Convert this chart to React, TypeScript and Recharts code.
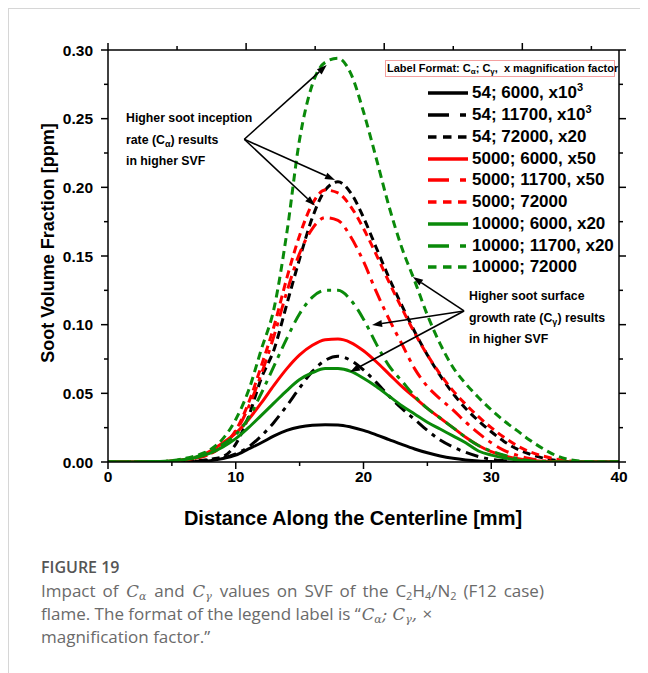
import React from 'react';
import { LineChart, Line, XAxis, YAxis, ReferenceLine } from 'recharts';

// ---------- data ----------
const X_MM = [0, 2, 4, 5, 6, 7, 8, 9, 10, 11, 12, 13, 14, 15, 16, 17, 18, 19, 20, 21, 22, 23, 24, 25, 26, 27, 28, 29, 30, 31, 32, 33, 34, 35, 36, 37, 38, 40];

const SVF_54_6000 = [0, 0, 0, 0, 0.0001, 0.0004, 0.001, 0.0025, 0.005, 0.0095, 0.014, 0.019, 0.023, 0.0255, 0.0268, 0.0272, 0.027, 0.0255, 0.023, 0.0198, 0.0163, 0.0128, 0.0095, 0.0067, 0.0044, 0.0027, 0.0015, 0.0007, 0.0003, 0.0001, 0, 0, 0, 0, 0, 0, 0, 0];
const SVF_54_11700 = [0, 0, 0, 0, 0.0002, 0.0006, 0.0015, 0.003, 0.006, 0.011, 0.019, 0.029, 0.041, 0.054, 0.066, 0.074, 0.077, 0.074, 0.067, 0.058, 0.048, 0.039, 0.031, 0.023, 0.016, 0.011, 0.007, 0.004, 0.002, 0.001, 0.0004, 0, 0, 0, 0, 0, 0, 0];
const SVF_54_72000 = [0, 0, 0, 0.0001, 0.0003, 0.0008, 0.002, 0.004, 0.013, 0.033, 0.061, 0.082, 0.115, 0.148, 0.178, 0.198, 0.204, 0.196, 0.178, 0.156, 0.134, 0.114, 0.095, 0.078, 0.063, 0.05, 0.039, 0.03, 0.022, 0.015, 0.0095, 0.0058, 0.003, 0.0012, 0.0003, 0, 0, 0];
const SVF_5000_6000 = [0, 0, 0.0003, 0.0008, 0.0018, 0.0035, 0.008, 0.014, 0.021, 0.031, 0.043, 0.056, 0.068, 0.078, 0.085, 0.089, 0.0895, 0.087, 0.081, 0.073, 0.064, 0.055, 0.047, 0.039, 0.032, 0.025, 0.018, 0.012, 0.0075, 0.0045, 0.0025, 0.0012, 0.0005, 0.0002, 0, 0, 0, 0];
const SVF_5000_11700 = [0, 0, 0.0002, 0.0006, 0.0015, 0.003, 0.006, 0.012, 0.022, 0.04, 0.064, 0.092, 0.124, 0.152, 0.17, 0.178, 0.176, 0.164, 0.146, 0.124, 0.104, 0.086, 0.068, 0.055, 0.046, 0.038, 0.029, 0.021, 0.014, 0.0085, 0.005, 0.0025, 0.001, 0.0003, 0, 0, 0, 0];
const SVF_5000_72000 = [0, 0, 0.0002, 0.0006, 0.0015, 0.003, 0.006, 0.012, 0.023, 0.043, 0.07, 0.099, 0.134, 0.165, 0.188, 0.198, 0.196, 0.186, 0.17, 0.151, 0.131, 0.112, 0.094, 0.078, 0.064, 0.052, 0.042, 0.033, 0.025, 0.018, 0.012, 0.0075, 0.0045, 0.0022, 0.0008, 0.0002, 0, 0];
const SVF_10000_6000 = [0, 0, 0.0003, 0.0008, 0.0018, 0.0035, 0.0065, 0.011, 0.017, 0.025, 0.034, 0.043, 0.052, 0.06, 0.065, 0.068, 0.068, 0.066, 0.061, 0.055, 0.048, 0.041, 0.035, 0.029, 0.024, 0.019, 0.014, 0.008, 0.005, 0.003, 0.0015, 0.0006, 0.0002, 0, 0, 0, 0, 0];
const SVF_10000_11700 = [0, 0, 0.0003, 0.0008, 0.002, 0.004, 0.008, 0.013, 0.02, 0.032, 0.05, 0.07, 0.09, 0.108, 0.12, 0.125, 0.125, 0.118, 0.104, 0.086, 0.07, 0.059, 0.048, 0.039, 0.032, 0.025, 0.018, 0.012, 0.008, 0.005, 0.0025, 0.001, 0.0003, 0, 0, 0, 0, 0];
const SVF_10000_72000 = [0, 0, 0.0004, 0.001, 0.0025, 0.005, 0.009, 0.017, 0.031, 0.052, 0.082, 0.112, 0.167, 0.235, 0.275, 0.291, 0.294, 0.283, 0.255, 0.221, 0.186, 0.156, 0.132, 0.107, 0.086, 0.069, 0.057, 0.047, 0.038, 0.03, 0.023, 0.016, 0.01, 0.005, 0.002, 0.0006, 0.0001, 0];

const X_TICKS = [0, 5, 10, 15, 20, 25, 30, 35, 40];
const Y_TICKS = [0, 0.025, 0.05, 0.075, 0.1, 0.125, 0.15, 0.175, 0.2, 0.225, 0.25, 0.275, 0.3];

const LEGEND_LABELS = [
  ['54; 6000, x10', '3'],
  ['54; 11700, x10', '3'],
  ['54; 72000, x20', ''],
  ['5000; 6000, x50', ''],
  ['5000; 11700, x50', ''],
  ['5000; 72000', ''],
  ['10000; 6000, x20', ''],
  ['10000; 11700, x20', ''],
  ['10000; 72000', ''],
];

// annotation arrows in data units [fromX, fromY, toX, toY]
const ARROWS_INCEPTION = [
  [10.67, 0.235, 17.12, 0.289],
  [10.67, 0.235, 17.77, 0.2054],
  [10.67, 0.235, 16.2, 0.1867],
];
const ARROWS_GROWTH = [
  [27.87, 0.11, 23.87, 0.1347],
  [27.87, 0.11, 20.67, 0.0998],
  [27.87, 0.11, 18.94, 0.0655],
];

// ---------- styles ----------
const BLACK = '#000000';
const RED = '#ff0000';
const GREEN = '#0a8a0a';
const SOLID = undefined;
const DASHDOT = '13 6 4 6';
const DASHED = '8 5';
const LEG_DASHDOT = '21 11 6 40';
const LEG_DASHED = '8.5 6.5';

const SERIES = [
  { key: 's1', values: SVF_54_6000, color: BLACK, dash: SOLID, legDash: SOLID },
  { key: 's2', values: SVF_54_11700, color: BLACK, dash: DASHDOT, legDash: LEG_DASHDOT },
  { key: 's3', values: SVF_54_72000, color: BLACK, dash: DASHED, legDash: LEG_DASHED },
  { key: 's4', values: SVF_5000_6000, color: RED, dash: SOLID, legDash: SOLID },
  { key: 's5', values: SVF_5000_11700, color: RED, dash: DASHDOT, legDash: LEG_DASHDOT },
  { key: 's6', values: SVF_5000_72000, color: RED, dash: DASHED, legDash: LEG_DASHED },
  { key: 's7', values: SVF_10000_6000, color: GREEN, dash: SOLID, legDash: SOLID },
  { key: 's8', values: SVF_10000_11700, color: GREEN, dash: DASHDOT, legDash: LEG_DASHDOT },
  { key: 's9', values: SVF_10000_72000, color: GREEN, dash: DASHED, legDash: LEG_DASHED },
];

const TABLE = X_MM.map((x, i) => {
  const row: any = { x };
  SERIES.forEach((s) => { row[s.key] = s.values[i]; });
  return row;
});

const FONT = '"Liberation Sans", Arial, sans-serif';

const isMajorX = (v: number) => Math.round(v) % 10 === 0;
const isMajorY = (v: number) => Math.round(v * 1000) % 50 === 0;

const BottomTick = (p: any) => {
  const v = p.payload.value;
  const major = isMajorX(v);
  return (
    <g>
      <line x1={p.x} y1={p.y} x2={p.x} y2={p.y + (major ? 7 : 4)} stroke="#000" strokeWidth={1.5} />
      {major && (
        <text x={p.x} y={p.y + 19.5} textAnchor="middle" fontFamily={FONT} fontWeight="bold" fontSize={15.5} fill="#000">
          {v}
        </text>
      )}
    </g>
  );
};
const TopTick = (p: any) => {
  const major = isMajorX(p.payload.value);
  return <line x1={p.x} y1={p.y} x2={p.x} y2={p.y - (major ? 7 : 4)} stroke="#000" strokeWidth={1.5} />;
};
const LeftTick = (p: any) => {
  const v = p.payload.value;
  const major = isMajorY(v);
  return (
    <g>
      <line x1={p.x} y1={p.y} x2={p.x - (major ? 7 : 4)} y2={p.y} stroke="#000" strokeWidth={1.5} />
      {major && (
        <text x={p.x - 15} y={p.y + 5.5} textAnchor="end" fontFamily={FONT} fontWeight="bold" fontSize={15.5} fill="#000">
          {v.toFixed(2)}
        </text>
      )}
    </g>
  );
};
const RightTick = (p: any) => {
  const major = isMajorY(p.payload.value);
  return <line x1={p.x} y1={p.y} x2={p.x + (major ? 7 : 4)} y2={p.y} stroke="#000" strokeWidth={1.5} />;
};

const Arrow = (p: any) => {
  const { x1, y1, x2, y2 } = p;
  const a = Math.atan2(y2 - y1, x2 - x1);
  const L = 10;
  const W = 3.5;
  const bx = x2 - L * Math.cos(a);
  const by = y2 - L * Math.sin(a);
  const pts = [
    [x2, y2],
    [bx + W * Math.sin(a), by - W * Math.cos(a)],
    [bx - W * Math.sin(a), by + W * Math.cos(a)],
  ]
    .map((q) => q.join(','))
    .join(' ');
  return (
    <g>
      <line x1={x1} y1={y1} x2={bx} y2={by} stroke="#000" strokeWidth={1.6} />
      <polygon points={pts} fill="#000" />
    </g>
  );
};

const subStyle: React.CSSProperties = { fontSize: 9, lineHeight: 0, verticalAlign: '-0.3em' };

const annoStyle: React.CSSProperties = {
  position: 'absolute',
  fontFamily: FONT,
  fontWeight: 'bold',
  fontSize: 12.3,
  color: '#000',
  whiteSpace: 'nowrap',
  lineHeight: '21.5px',
};

const capSub: React.CSSProperties = { fontSize: 11, lineHeight: 0, verticalAlign: '-0.3em' };
const capLine: React.CSSProperties = { fontSize: 17, fontWeight: 400, lineHeight: '23px', height: 23 };
const mathC: React.CSSProperties = { fontFamily: '"DejaVu Serif", serif', fontStyle: 'italic', fontSize: 16.5, margin: '0 1px' };

export default function App() {
  return (
    <div style={{ position: 'relative', width: 640, height: 665, background: '#fff' }}>
      <div style={{ position: 'absolute', left: 0, top: 0, width: 1, height: 665, background: '#d6d6d6' }} />
      <div style={{ position: 'absolute', left: 0, top: 0, width: 640, height: 1, background: '#d6d6d6' }} />

      <div style={{ position: 'absolute', left: 0, top: 0 }}>
        <LineChart width={640} height={524} data={TABLE} margin={{ top: 32, right: 19, bottom: 0, left: 0 }}>
          <XAxis
            dataKey="x"
            type="number"
            domain={[0, 40]}
            ticks={X_TICKS}
            interval={0}
            height={70}
            tickSize={0}
            tickMargin={0}
            tickLine={false}
            axisLine={{ stroke: '#000', strokeWidth: 1.5 }}
            tick={<BottomTick />}
            allowDataOverflow
          />
          <XAxis
            xAxisId="top"
            orientation="top"
            type="number"
            domain={[0, 40]}
            ticks={X_TICKS}
            interval={0}
            height={10}
            tickSize={0}
            tickMargin={0}
            tickLine={false}
            axisLine={{ stroke: '#000', strokeWidth: 1.5 }}
            tick={<TopTick />}
            allowDataOverflow
          />
          <YAxis
            type="number"
            domain={[0, 0.3]}
            ticks={Y_TICKS}
            interval={0}
            width={100}
            tickSize={0}
            tickMargin={0}
            tickLine={false}
            axisLine={{ stroke: '#000', strokeWidth: 1.5 }}
            tick={<LeftTick />}
            allowDataOverflow
          />
          <YAxis
            yAxisId="right"
            orientation="right"
            type="number"
            domain={[0, 0.3]}
            ticks={Y_TICKS}
            interval={0}
            width={10}
            tickSize={0}
            tickMargin={0}
            tickLine={false}
            axisLine={{ stroke: '#000', strokeWidth: 1.5 }}
            tick={<RightTick />}
            allowDataOverflow
          />
          {SERIES.map((s) => (
            <Line
              key={s.key}
              dataKey={s.key}
              type="monotone"
              stroke={s.color}
              strokeWidth={3}
              strokeDasharray={s.dash}
              dot={false}
              activeDot={false}
              isAnimationActive={false}
            />
          ))}
          {[...ARROWS_INCEPTION, ...ARROWS_GROWTH].map((a, i) => (
            <ReferenceLine
              key={'ar' + i}
              segment={[{ x: a[0], y: a[1] }, { x: a[2], y: a[3] }]}
              ifOverflow="visible"
              shape={(p: any) => <Arrow {...p} />}
            />
          ))}
        </LineChart>
      </div>

      {/* axis titles */}
      <div
        style={{
          position: 'absolute',
          left: 345,
          top: 510,
          transform: 'translate(-50%, -50%)',
          fontFamily: FONT,
          fontWeight: 'bold',
          fontSize: 20,
          whiteSpace: 'nowrap',
        }}
      >
        Distance Along the Centerline [mm]
      </div>
      <div
        style={{
          position: 'absolute',
          left: 40,
          top: 235,
          transform: 'translate(-50%, -50%) rotate(-90deg)',
          fontFamily: FONT,
          fontWeight: 'bold',
          fontSize: 18,
          whiteSpace: 'nowrap',
        }}
      >
        Soot Volume Fraction [ppm]
      </div>

      {/* annotations */}
      <div style={{ ...annoStyle, left: 118, top: 100 }}>
        <div>Higher soot inception</div>
        <div>
          rate (C<span style={subStyle}>α</span>) results
        </div>
        <div>in higher SVF</div>
      </div>
      <div style={{ ...annoStyle, left: 461, top: 278 }}>
        <div>Higher soot surface</div>
        <div>
          growth rate (C<span style={subStyle}>γ</span>) results
        </div>
        <div>in higher SVF</div>
      </div>

      {/* legend */}
      <div
        style={{
          position: 'absolute',
          left: 377,
          top: 52,
          width: 230,
          height: 17,
          border: '1px solid #f4a0a0',
          fontFamily: FONT,
          fontWeight: 'bold',
          fontSize: 11,
          lineHeight: '15px',
          paddingLeft: 1,
          whiteSpace: 'nowrap',
          boxSizing: 'border-box',
          background: '#fff',
        }}
      >
        Label Format: C<span style={{ fontSize: 8, lineHeight: 0, verticalAlign: '-0.3em' }}>α</span>; C
        <span style={{ fontSize: 8, lineHeight: 0, verticalAlign: '-0.3em' }}>γ</span>,&nbsp; x magnification factor
      </div>
      {SERIES.map((s, i) => (
        <div
          key={'lg' + s.key}
          style={{
            position: 'absolute',
            left: 420,
            top: 85.3 + i * 21.75 - 11,
            height: 22,
            display: 'flex',
            alignItems: 'center',
            fontFamily: FONT,
            fontWeight: 'bold',
            fontSize: 17,
            whiteSpace: 'nowrap',
          }}
        >
          <svg width={43} height={8} style={{ display: 'block' }}>
            <line x1={0} y1={4} x2={40} y2={4} stroke={s.color} strokeWidth={3.5} strokeDasharray={s.legDash} />
          </svg>
          <span style={{ marginLeft: 1 }}>
            {LEGEND_LABELS[i][0]}
            {LEGEND_LABELS[i][1] && <sup style={{ fontSize: 11, lineHeight: 0 }}>{LEGEND_LABELS[i][1]}</sup>}
          </span>
        </div>
      ))}

      {/* caption */}
      <div
        style={{
          position: 'absolute',
          left: 33,
          top: 547,
          fontFamily: '"Open Sans", sans-serif',
          color: '#6a6a6a',
          whiteSpace: 'nowrap',
        }}
      >
        <div style={{ fontSize: 16, fontWeight: 600, lineHeight: '24px', color: '#555' }}>FIGURE 19</div>
        <div style={{ ...capLine, wordSpacing: 2.5 }}>
          Impact of <span style={mathC}>C<span style={capSub}>α</span></span> and{' '}
          <span style={mathC}>C<span style={capSub}>γ</span></span> values on SVF of the C
          <span style={capSub}>2</span>H<span style={capSub}>4</span>/N<span style={capSub}>2</span> (F12 case)
        </div>
        <div style={capLine}>
          flame. The format of the legend label is “<span style={mathC}>C<span style={capSub}>α</span>; C
          <span style={capSub}>γ</span>,</span> ×
        </div>
        <div style={capLine}>magnification factor.”</div>
      </div>
    </div>
  );
}
